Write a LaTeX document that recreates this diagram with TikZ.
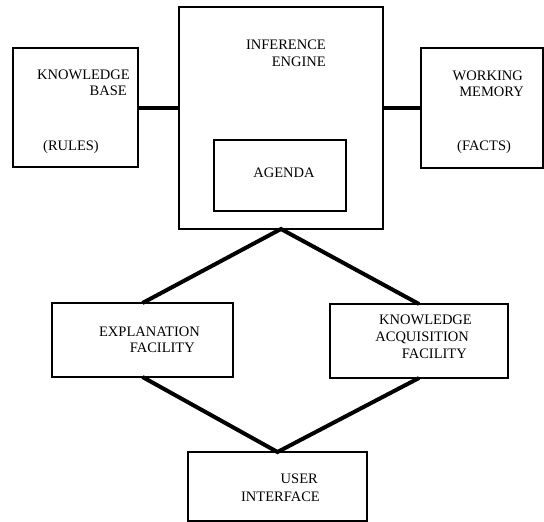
\documentclass[tikz,border=0pt]{standalone}
\usepackage{fontspec}
\setmainfont{Liberation Serif}
\begin{document}
\begin{tikzpicture}[x=1pt,y=-1pt,
  box/.style={draw, line width=1.3pt, inner sep=0pt, outer sep=0pt, rectangle},
  lbl/.style={inner sep=0pt, font=\fontsize{14.5}{17}\selectfont},
  link/.style={line width=4pt, line join=miter}]
\useasboundingbox (0,0) rectangle (544,522);
% boxes
\node[box, minimum width=125pt, minimum height=119pt] (kb) at (75.5,107.5) {};
\node[box, minimum width=204pt, minimum height=222pt] (ie) at (281,118) {};
\node[box, minimum width=132pt, minimum height=71pt] (ag) at (280,175.5) {};
\node[box, minimum width=122pt, minimum height=120pt] (wm) at (482,108) {};
\node[box, minimum width=181pt, minimum height=74pt] (ef) at (142.5,340) {};
\node[box, minimum width=178pt, minimum height=74pt] (kaf) at (419,341) {};
\node[box, minimum width=179pt, minimum height=69pt] (ui) at (277.5,486.5) {};
% texts
\node[lbl, anchor=base east] (kb1) at (130,79) {KNOWLEDGE};
\node[lbl, anchor=base east] (kb2) at (127,95) {BASE};
\node[lbl, anchor=base west] (kb3) at (43,150) {(RULES)};
\node[lbl, anchor=base east] (ie1) at (326,49) {INFERENCE};
\node[lbl, anchor=base east] (ie2) at (326,66) {ENGINE};
\node[lbl, anchor=base east] (wm1) at (523,80) {WORKING};
\node[lbl, anchor=base east] (wm2) at (524,96) {MEMORY};
\node[lbl, anchor=base west] (wm3) at (457,150) {(FACTS)};
\node[lbl, anchor=base] (ag1) at (284,177) {AGENDA};
\node[lbl, anchor=base east] (ef1) at (200,336) {EXPLANATION};
\node[lbl, anchor=base east] (ef2) at (195,352) {FACILITY};
\node[lbl, anchor=base east] (kaf1) at (472,324) {KNOWLEDGE};
\node[lbl, anchor=base east] (kaf2) at (469,341) {ACQUISITION};
\node[lbl, anchor=base east] (kaf3) at (467,358) {FACILITY};
\node[lbl, anchor=base east] (ui1) at (318,483) {USER};
\node[lbl, anchor=base east] (ui2) at (320,501) {INTERFACE};
% connectors
\draw[link] (kb.east) -- (kb.east -| ie.west);
\draw[link] (wm.west) -- (wm.west -| ie.east);
\draw[link] (ef.north) -- (ie.south) -- (kaf.north);
\draw[link] (ef.south) -- (ui.north) -- (kaf.south);
\end{tikzpicture}
\end{document}
